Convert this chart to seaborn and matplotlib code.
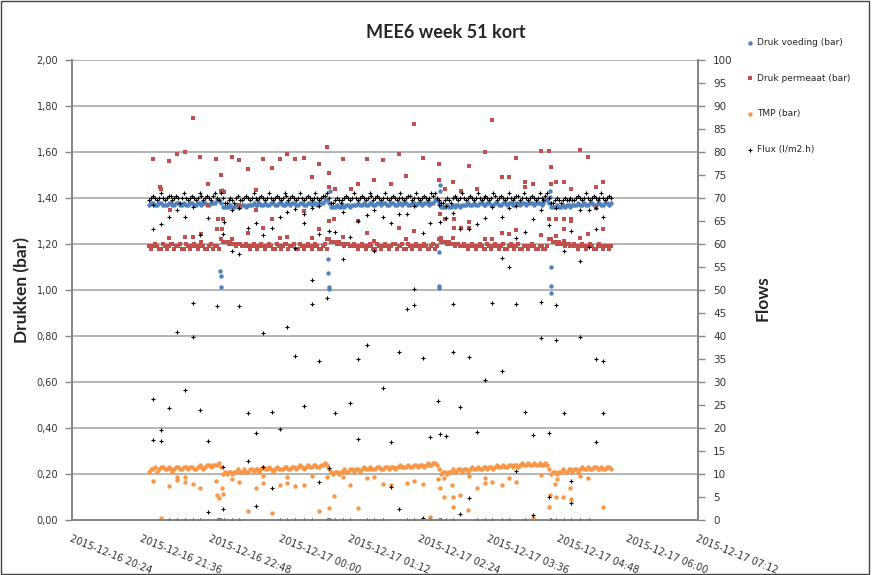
import pandas as pd
import matplotlib
matplotlib.use("Agg")
import matplotlib.pyplot as plt
import matplotlib.dates as mdates
from matplotlib.patches import Rectangle
from matplotlib.ticker import FuncFormatter
import seaborn as sns

# meetklok: elke 2 minuten vanaf 21:44
start = pd.Timestamp("2015-12-16 21:44")
band_tijd = pd.date_range(start, periods=240, freq="2min")

# normale waarden (band)
voeding_band = [
    1.37, 1.38, 1.38, 1.37, 1.37, 1.38, 1.38, 1.37, 1.37, 1.37, 1.38, 1.38, 1.37, 1.37, 1.38, 1.38, 1.37, 1.37, 1.38, 1.37,
    1.37, 1.38, 1.38, 1.37, 1.37, 1.38, 1.38, 1.37, 1.38, 1.38, 1.37, 1.37, 1.38, 1.38, 1.38, 1.39, 1.39, 1.38, 1.36, 1.36,
    1.36, 1.36, 1.37, 1.36, 1.36, 1.37, 1.36, 1.36, 1.37, 1.37, 1.36, 1.37, 1.37, 1.37, 1.38, 1.37, 1.37, 1.38, 1.37, 1.37,
    1.38, 1.37, 1.37, 1.38, 1.38, 1.37, 1.37, 1.38, 1.38, 1.37, 1.37, 1.38, 1.38, 1.37, 1.38, 1.38, 1.37, 1.37, 1.38, 1.38,
    1.37, 1.37, 1.38, 1.38, 1.37, 1.38, 1.38, 1.37, 1.38, 1.38, 1.38, 1.39, 1.39, 1.38, 1.36, 1.36, 1.36, 1.37, 1.36, 1.36,
    1.37, 1.36, 1.37, 1.37, 1.36, 1.37, 1.37, 1.37, 1.38, 1.37, 1.37, 1.38, 1.37, 1.37, 1.38, 1.38, 1.37, 1.37, 1.38, 1.38,
    1.37, 1.38, 1.38, 1.37, 1.37, 1.38, 1.38, 1.37, 1.37, 1.38, 1.38, 1.37, 1.38, 1.38, 1.37, 1.37, 1.38, 1.38, 1.37, 1.38,
    1.38, 1.37, 1.38, 1.38, 1.38, 1.37, 1.38, 1.38, 1.39, 1.39, 1.38, 1.36, 1.36, 1.36, 1.37, 1.36, 1.36, 1.37, 1.36, 1.37,
    1.37, 1.36, 1.37, 1.37, 1.37, 1.38, 1.37, 1.37, 1.38, 1.37, 1.37, 1.38, 1.38, 1.37, 1.37, 1.38, 1.38, 1.37, 1.37, 1.38,
    1.38, 1.37, 1.37, 1.38, 1.38, 1.37, 1.38, 1.38, 1.37, 1.37, 1.38, 1.38, 1.37, 1.38, 1.38, 1.37, 1.38, 1.38, 1.38, 1.37,
    1.38, 1.38, 1.38, 1.37, 1.38, 1.39, 1.39, 1.38, 1.36, 1.36, 1.36, 1.37, 1.36, 1.36, 1.37, 1.36, 1.37, 1.37, 1.36, 1.37,
    1.37, 1.37, 1.38, 1.37, 1.37, 1.38, 1.37, 1.37, 1.38, 1.38, 1.37, 1.37, 1.38, 1.38, 1.37, 1.37, 1.38, 1.38, 1.37, 1.38,
]
permeaat_band = [
    1.19, 1.18, 1.19, 1.20, 1.19, 1.18, 1.18, 1.20, 1.19, 1.18, 1.19, 1.20, 1.20, 1.18, 1.19, 1.19, 1.20, 1.18, 1.18, 1.20,
    1.19, 1.18, 1.19, 1.20, 1.19, 1.18, 1.19, 1.20, 1.19, 1.18, 1.18, 1.19, 1.20, 1.18, 1.19, 1.19, 1.18, 1.22, 1.21, 1.21,
    1.21, 1.20, 1.21, 1.20, 1.20, 1.19, 1.20, 1.20, 1.19, 1.19, 1.20, 1.19, 1.18, 1.19, 1.20, 1.19, 1.18, 1.19, 1.20, 1.19,
    1.18, 1.19, 1.20, 1.19, 1.18, 1.18, 1.20, 1.19, 1.18, 1.19, 1.20, 1.20, 1.18, 1.19, 1.19, 1.20, 1.18, 1.18, 1.20, 1.19,
    1.18, 1.19, 1.20, 1.19, 1.18, 1.19, 1.20, 1.19, 1.18, 1.18, 1.19, 1.20, 1.18, 1.22, 1.21, 1.21, 1.21, 1.20, 1.21, 1.20,
    1.20, 1.19, 1.20, 1.20, 1.19, 1.19, 1.20, 1.19, 1.18, 1.19, 1.20, 1.19, 1.18, 1.19, 1.20, 1.19, 1.18, 1.18, 1.20, 1.19,
    1.18, 1.19, 1.20, 1.19, 1.18, 1.19, 1.20, 1.20, 1.18, 1.19, 1.19, 1.20, 1.18, 1.18, 1.20, 1.19, 1.18, 1.19, 1.20, 1.19,
    1.18, 1.19, 1.20, 1.19, 1.18, 1.18, 1.19, 1.20, 1.18, 1.19, 1.22, 1.21, 1.21, 1.21, 1.20, 1.21, 1.20, 1.20, 1.19, 1.20,
    1.20, 1.19, 1.19, 1.20, 1.19, 1.18, 1.19, 1.20, 1.19, 1.18, 1.19, 1.20, 1.19, 1.18, 1.18, 1.20, 1.19, 1.18, 1.19, 1.20,
    1.19, 1.18, 1.19, 1.20, 1.18, 1.18, 1.19, 1.20, 1.19, 1.18, 1.19, 1.20, 1.18, 1.18, 1.19, 1.19, 1.18, 1.19, 1.20, 1.19,
    1.18, 1.18, 1.19, 1.19, 1.18, 1.18, 1.19, 1.22, 1.22, 1.21, 1.21, 1.20, 1.21, 1.20, 1.20, 1.19, 1.20, 1.20, 1.19, 1.19,
    1.20, 1.19, 1.18, 1.19, 1.20, 1.19, 1.18, 1.19, 1.20, 1.19, 1.18, 1.18, 1.19, 1.20, 1.19, 1.18, 1.19, 1.19, 1.18, 1.19,
]
tmp_band = [
    0.21, 0.22, 0.22, 0.23, 0.21, 0.22, 0.23, 0.23, 0.22, 0.22, 0.23, 0.22, 0.21, 0.22, 0.23, 0.23, 0.22, 0.22, 0.23, 0.23,
    0.22, 0.23, 0.23, 0.22, 0.22, 0.23, 0.24, 0.23, 0.22, 0.23, 0.24, 0.24, 0.23, 0.24, 0.24, 0.24, 0.25, 0.23, 0.20, 0.21,
    0.20, 0.21, 0.21, 0.20, 0.21, 0.21, 0.22, 0.21, 0.21, 0.22, 0.21, 0.21, 0.22, 0.22, 0.21, 0.22, 0.22, 0.21, 0.22, 0.23,
    0.22, 0.22, 0.23, 0.22, 0.21, 0.22, 0.23, 0.22, 0.22, 0.22, 0.23, 0.23, 0.22, 0.22, 0.23, 0.23, 0.22, 0.23, 0.24, 0.23,
    0.22, 0.23, 0.24, 0.23, 0.23, 0.24, 0.24, 0.23, 0.23, 0.24, 0.24, 0.25, 0.24, 0.22, 0.21, 0.20, 0.21, 0.21, 0.20, 0.21,
    0.21, 0.22, 0.21, 0.21, 0.22, 0.22, 0.21, 0.22, 0.22, 0.21, 0.22, 0.23, 0.22, 0.22, 0.23, 0.22, 0.22, 0.22, 0.23, 0.23,
    0.22, 0.22, 0.23, 0.23, 0.22, 0.23, 0.23, 0.22, 0.23, 0.23, 0.24, 0.23, 0.23, 0.23, 0.24, 0.23, 0.23, 0.24, 0.24, 0.23,
    0.24, 0.24, 0.23, 0.24, 0.25, 0.24, 0.24, 0.25, 0.25, 0.24, 0.22, 0.20, 0.21, 0.21, 0.20, 0.21, 0.21, 0.22, 0.21, 0.21,
    0.22, 0.22, 0.21, 0.22, 0.22, 0.21, 0.22, 0.23, 0.22, 0.22, 0.23, 0.22, 0.22, 0.23, 0.23, 0.22, 0.23, 0.23, 0.22, 0.23,
    0.24, 0.23, 0.23, 0.24, 0.23, 0.23, 0.24, 0.24, 0.23, 0.24, 0.24, 0.23, 0.24, 0.25, 0.24, 0.24, 0.25, 0.24, 0.24, 0.25,
    0.24, 0.24, 0.25, 0.24, 0.24, 0.25, 0.24, 0.22, 0.20, 0.21, 0.21, 0.20, 0.21, 0.21, 0.22, 0.21, 0.21, 0.22, 0.22, 0.21,
    0.22, 0.22, 0.21, 0.22, 0.23, 0.22, 0.22, 0.23, 0.22, 0.22, 0.23, 0.23, 0.22, 0.22, 0.23, 0.22, 0.22, 0.23, 0.23, 0.22,
]
flux_band = [
    69.5, 70, 70.5, 70, 69.5, 70, 71, 70, 69.5, 70, 70.5, 70.5, 69.5, 70, 70.5, 70, 69, 70, 71, 70,
    69.5, 70, 70.5, 70, 69.5, 70, 71, 70.5, 69.5, 70, 70.5, 70, 69.5, 70.5, 71, 70, 69.5, 71, 70, 69,
    69, 69.5, 70, 69.5, 69, 70, 70.5, 69.5, 69.5, 70, 70.5, 70, 69.5, 70, 71, 70, 69.5, 70, 70.5, 70,
    69.5, 70, 71, 70, 69.5, 70, 70.5, 70, 69.5, 70, 71, 70.5, 69.5, 70, 70.5, 70, 69.5, 70, 71, 70,
    69.5, 70, 70.5, 70, 69.5, 70, 71, 70, 69.5, 70, 70.5, 70.5, 71, 70, 69, 69, 69.5, 70, 69.5, 69,
    69.5, 70, 70.5, 70, 69.5, 70, 71, 70, 69.5, 70, 70.5, 70, 69.5, 70, 71, 70.5, 69.5, 70, 70.5, 70,
    69.5, 70, 71, 70, 69.5, 70, 70.5, 70, 69.5, 70, 71, 70, 69.5, 70, 70.5, 70.5, 69.5, 70, 71, 70,
    69.5, 70, 70.5, 70, 69.5, 70, 71, 70.5, 71, 70, 69.5, 69, 69, 69.5, 70, 69.5, 69, 70, 70.5, 70,
    69.5, 70, 71, 70, 69.5, 70, 70.5, 70, 69.5, 70, 71, 70, 69.5, 70, 70.5, 70, 69.5, 70, 71, 70.5,
    69.5, 70, 70.5, 70, 69.5, 70, 71, 70, 69.5, 70, 70.5, 70.5, 69.5, 70, 71, 70, 69.5, 70, 70.5, 70,
    69.5, 70, 71, 70, 69.5, 70.5, 71, 70, 69, 69, 69.5, 70, 69.5, 69, 69.5, 70, 69.5, 69.5, 70, 69.5,
    69.5, 70, 70.5, 70, 69.5, 70, 71, 70, 69.5, 70, 70.5, 70, 69.5, 70, 71, 70, 69.5, 70, 70.5, 70,
]

# afwijkende punten: (minuten na 21:44, waarde)
voeding_extra = [
    (73, 1.083), (74, 1.06), (74, 1.013), (75, 1.435),
    (185, 1.135), (185, 1.074), (186, 1.013), (186, 1.005), (187, 1.43),
    (300, 1.165), (300, 1.017), (300, 1.009), (301, 1.457), (301, 1.43),
    (415, 1.43), (415, 1.404), (416, 1.10), (416, 1.017), (416, 0.987),
]
permeaat_extra = [
    (4, 1.57), (11, 1.45), (12, 1.44), (20, 1.225), (20, 1.56), (21, 1.35), (29, 1.59),
    (37, 1.60), (37, 1.23), (45, 1.75), (45, 1.23), (53, 1.58), (54, 1.245), (54, 1.21),
    (61, 1.46), (61, 1.37), (69, 1.57), (70, 1.265), (71, 1.31), (74, 1.50), (74, 1.43),
    (75, 1.265), (76, 1.31), (77, 1.425), (86, 1.58), (86, 1.22), (93, 1.565), (93, 1.37),
    (102, 1.525), (102, 1.25), (110, 1.435), (110, 1.35), (118, 1.57), (118, 1.27),
    (127, 1.53), (127, 1.31), (135, 1.57), (135, 1.225), (143, 1.59), (143, 1.23), (151, 1.57),
    (160, 1.575), (160, 1.345), (168, 1.225), (168, 1.49), (176, 1.265), (176, 1.55),
    (184, 1.62), (184, 1.22), (186, 1.51), (186, 1.45), (186, 1.30), (191, 1.31), (192, 1.44),
    (201, 1.57), (201, 1.23), (209, 1.44), (216, 1.46), (216, 1.30), (225, 1.57), (225, 1.25),
    (233, 1.48), (233, 1.215), (242, 1.565), (250, 1.46), (258, 1.59), (258, 1.27),
    (266, 1.495), (266, 1.22), (274, 1.72), (274, 1.255), (283, 1.575),
    (300, 1.55), (300, 1.48), (301, 1.33), (302, 1.225), (306, 1.31), (306, 1.44),
    (314, 1.225), (314, 1.47), (315, 1.31), (315, 1.27), (323, 1.43), (323, 1.27),
    (331, 1.54), (331, 1.295), (331, 1.27), (339, 1.44), (347, 1.60), (347, 1.22),
    (355, 1.22), (355, 1.74), (365, 1.49), (365, 1.25), (372, 1.49), (372, 1.245),
    (380, 1.575), (380, 1.26), (389, 1.47), (389, 1.45), (397, 1.46), (405, 1.605), (405, 1.24),
    (414, 1.605), (414, 1.31), (416, 1.535), (416, 1.46), (421, 1.31), (421, 1.47), (421, 1.235),
    (429, 1.265), (429, 1.47), (429, 1.31), (429, 1.215), (437, 1.31), (437, 1.30), (437, 1.44),
    (446, 1.61), (446, 1.225), (454, 1.58), (454, 1.245), (462, 1.45), (462, 1.355),
    (470, 1.47), (470, 1.265),
]
tmp_extra = [
    (4, 0.17), (12, 0.008), (20, 0.148), (29, 0.187), (29, 0.173), (37, 0.187), (37, 0.165),
    (45, 0.157), (53, 0.138), (69, 0.17), (70, 0.108), (72, 0.095), (75, 0.138), (76, 0.113),
    (86, 0.178), (93, 0.165), (102, 0.04), (110, 0.138), (118, 0.16), (118, 0.193), (127, 0.03),
    (135, 0.152), (143, 0.187), (143, 0.16), (151, 0.148), (160, 0.152), (168, 0.193), (176, 0.04),
    (184, 0.187), (186, 0.052), (191, 0.104), (201, 0.187), (208, 0.152), (216, 0.052),
    (225, 0.183), (233, 0.187), (242, 0.155), (250, 0.152), (267, 0.16), (274, 0.17),
    (283, 0.155), (291, 0.013), (299, 0.178), (301, 0.138), (305, 0.183), (305, 0.10),
    (313, 0.152), (314, 0.10), (314, 0.057), (322, 0.109), (330, 0.043), (331, 0.193),
    (339, 0.138), (347, 0.183), (347, 0.16), (355, 0.165), (365, 0.152), (372, 0.183),
    (380, 0.165), (397, 0.009), (405, 0.196), (414, 0.057), (415, 0.109), (420, 0.155),
    (421, 0.10), (422, 0.178), (428, 0.10), (436, 0.138), (437, 0.091), (446, 0.193),
    (454, 0.183), (470, 0.057),
]
flux_extra = [
    (4, 68.5), (4, 63.2), (4, 26.3), (4, 17.4), (12, 64.3), (12, 19.6), (12, 17.2),
    (20, 65.9), (20, 24.3), (20, 0), (29, 67.4), (29, 40.9), (29, 0), (37, 65.9), (37, 28.3), (37, 0),
    (45, 68), (45, 47.2), (45, 39.8), (45, 0), (53, 62), (53, 23.9), (53, 0),
    (61, 65.6), (61, 17.2), (61, 1.7), (70, 46.5), (70, 0), (71, 0), (72, 0), (73, 0), (74, 0),
    (76, 62.2), (76, 11.5), (76, 2.4), (77, 64.8), (77, 0), (86, 58.5), (86, 67.4), (86, 0),
    (93, 57.8), (93, 67.8), (93, 46.5), (93, 0), (102, 63.5), (102, 23.3), (102, 12.8),
    (110, 64.6), (110, 18.9), (110, 3.0), (118, 62), (118, 40.7), (118, 11.5),
    (127, 63.5), (127, 23.5), (127, 7.0), (135, 65.9), (135, 19.8), (135, 0),
    (143, 67), (143, 41.9), (143, 0), (151, 67.6), (151, 59.1), (151, 35.7), (151, 0),
    (160, 64.6), (160, 66.5), (160, 24.8), (160, 0), (168, 67.8), (168, 52.2), (168, 46.9), (168, 0),
    (176, 62.2), (176, 68.3), (176, 34.6), (176, 8.3), (184, 48.3), (184, 0), (185, 0),
    (186, 62.8), (186, 11.3), (186, 0), (187, 0), (192, 62.6), (192, 23.3), (192, 0),
    (201, 67), (201, 56.7), (201, 0), (208, 61.5), (208, 25.4), (208, 0),
    (216, 65), (216, 35), (216, 17.6), (225, 66.3), (225, 38), (225, 0),
    (233, 67.4), (233, 58.5), (233, 0), (242, 65.9), (242, 28.7), (242, 0),
    (250, 64.6), (250, 17), (250, 7.2), (258, 66.5), (258, 36.5), (258, 2.4),
    (267, 66.5), (267, 45.9), (267, 0), (274, 68.3), (274, 50.2), (274, 46.7), (274, 0),
    (283, 62.4), (283, 35.2), (283, 0.4), (291, 64.6), (291, 18), (291, 0), (299, 25.9),
    (300, 68.5), (300, 0), (301, 64.8), (301, 18.7), (301, 0), (302, 0),
    (307, 65.7), (307, 68.3), (307, 18.3), (307, 0), (314, 66.7), (314, 46.9), (314, 36.5), (314, 0),
    (322, 63.3), (322, 24.6), (322, 1.3), (331, 63.3), (331, 35.4), (331, 4.8),
    (339, 64.3), (339, 19.1), (339, 0), (347, 65.7), (347, 30.4), (347, 0),
    (355, 68), (355, 47.2), (355, 0), (365, 57), (365, 65.9), (365, 32.4), (365, 0),
    (372, 55), (372, 67.8), (372, 0), (380, 68.3), (380, 61.3), (380, 46.9), (380, 10.7),
    (389, 62.6), (389, 23.5), (389, 0), (397, 65.4), (397, 18.5), (397, 1.0),
    (405, 67.4), (405, 47.4), (405, 39.6), (414, 64.1), (414, 18.9), (414, 5), (415, 0), (416, 0),
    (421, 67.8), (421, 46.7), (421, 39.1), (421, 0), (429, 58.5), (429, 23.3), (429, 0),
    (437, 62.8), (437, 8.5), (437, 3.7), (437, 0), (446, 56.3), (446, 67.4), (446, 39.8), (446, 0),
    (455, 59.3), (455, 67.4), (455, 0), (462, 63.3), (462, 67.8), (462, 35), (462, 17),
    (470, 65.9), (470, 34.6), (470, 23.3),
]

x_ticks = pd.date_range("2015-12-16 20:24", "2015-12-17 07:12", freq="72min")


def maak_df(band, extra):
    tijd = list(band_tijd) + [start + pd.Timedelta(minutes=m) for m, v in extra]
    waarde = list(band) + [v for m, v in extra]
    return pd.DataFrame({"tijd": tijd, "waarde": waarde})


sns.set_theme(style="white")
plt.rcParams["font.family"] = ["DejaVu Sans"]

fig = plt.figure(figsize=(8.72, 5.75), dpi=100)
ax = fig.add_axes([72 / 872, 1 - 520 / 575, 626 / 872, 460 / 575])
ax2 = ax.twinx()

sns.scatterplot(data=maak_df(voeding_band, voeding_extra), x="tijd", y="waarde", ax=ax,
                color="#4F81BD", marker="o", s=10, linewidth=0, label="Druk voeding (bar)", legend=False)
sns.scatterplot(data=maak_df(permeaat_band, permeaat_extra), x="tijd", y="waarde", ax=ax,
                color="#C0504D", marker="s", s=10, linewidth=0, label="Druk permeaat (bar)", legend=False)
sns.scatterplot(data=maak_df(tmp_band, tmp_extra), x="tijd", y="waarde", ax=ax,
                color="#F79646", marker="o", s=10, linewidth=0, label="TMP (bar)", legend=False)
sns.scatterplot(data=maak_df(flux_band, flux_extra), x="tijd", y="waarde", ax=ax2,
                color="black", marker="+", s=11, linewidth=0.8, label="Flux (l/m2.h)", legend=False)

# assen
ax.set_xlim(x_ticks[0], x_ticks[-1])
ax.set_ylim(0, 2)
ax2.set_ylim(0, 100)
ax.set_yticks([i * 0.2 for i in range(11)])
ax.yaxis.set_major_formatter(FuncFormatter(lambda v, p: f"{v:.2f}".replace(".", ",")))
ax2.set_yticks(range(0, 101, 5))
tick_pos = mdates.date2num(x_ticks.to_pydatetime())
ax.set_xticks(tick_pos)
ax.set_xticklabels([t.strftime("%Y-%m-%d %H:%M") for t in x_ticks],
                   rotation=-22, ha="left", va="top", rotation_mode="anchor")
for a in (ax, ax2):
    a.set_xlabel("")
    a.set_ylabel("")
    a.spines["top"].set_visible(False)
    for s in ("left", "right", "bottom"):
        a.spines[s].set_color("#868686")
        a.spines[s].set_linewidth(1.3)
ax.tick_params(axis="both", length=5, width=1, color="#868686", labelcolor="#333333",
               labelsize=7, pad=5, direction="out")
ax2.tick_params(axis="y", length=5, width=1, color="#868686", labelcolor="#333333",
                labelsize=7.5, pad=6, direction="out")
ax.yaxis.grid(True, color="#b4b4b4", linewidth=1.4)
ax.xaxis.grid(False)
ax.set_axisbelow(True)

# teksten
fig.text(446 / 872, 1 - 32 / 575, "MEE6 week 51 kort", ha="center", va="center",
         fontsize=13, fontweight="bold", family="Lato")
fig.text(22 / 872, 1 - 290 / 575, "Drukken (bar)", rotation=90, ha="center", va="center",
         fontsize=12.5, fontweight="bold", family="Lato")
fig.text(763 / 872, 1 - 298 / 575, "Flows", rotation=90, ha="center", va="center",
         fontsize=12.5, fontweight="bold", family="Lato")

h1, l1 = ax.get_legend_handles_labels()
h2, l2 = ax2.get_legend_handles_labels()
fig.legend(h1 + h2, l1 + l2, loc="upper left", bbox_to_anchor=(747 / 872, 1 - 38 / 575),
           frameon=False, prop={"size": 6.5}, labelspacing=2.95, handlelength=0.6,
           handletextpad=0.5, borderaxespad=0, borderpad=0)

fig.patches.append(Rectangle((0.001, 0.001), 0.996, 0.997, transform=fig.transFigure,
                             fill=False, edgecolor="#444444", linewidth=1))

fig.savefig("out.png", dpi=100)
